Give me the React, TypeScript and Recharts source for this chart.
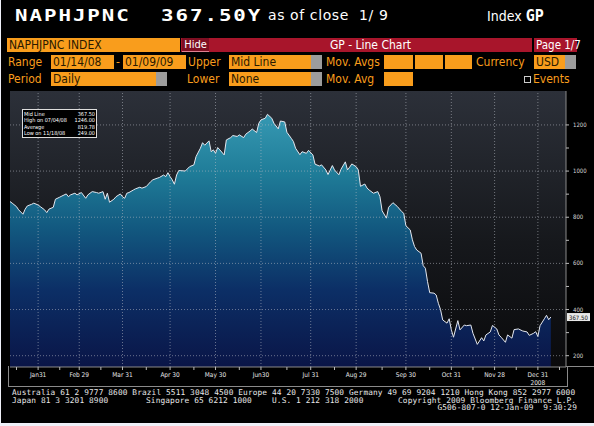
import React from 'react';
import { ComposedChart, Area, XAxis, YAxis, CartesianGrid, ReferenceLine } from 'recharts';

// trading-day offset from 01/14/08 and the daily close
const tradingDay = [
  0, 1, 3, 4, 6, 7, 8, 10, 11, 13, 14, 16, 17, 18, 20, 21, 23, 24, 26, 27, 28, 30, 31, 33, 35, 36, 38, 40, 41, 43,
  44, 45, 46, 48, 49, 51, 52, 53, 54, 55, 57, 58, 60, 61, 63, 65, 66, 68, 69, 71, 72, 73, 74, 75, 76, 77, 78, 79, 81, 83,
  85, 86, 88, 89, 90, 92, 93, 94, 95, 96, 97, 99, 100, 102, 103, 105, 106, 108, 109, 111, 112, 114, 115, 116, 118, 119, 121, 122, 124, 125,
  127, 128, 130, 131, 132, 134, 135, 137, 138, 140, 141, 143, 144, 146, 147, 149, 150, 152, 153, 155, 156, 157, 158, 160, 161, 162, 164, 165, 166, 168,
  170, 171, 172, 174, 175, 177, 179, 181, 182, 183, 185, 186, 187, 188, 190, 191, 192, 193, 194, 196, 197, 198, 199, 200, 202, 203, 204, 205, 207, 208,
  210, 211, 213, 214, 216, 218, 219, 220, 222, 223, 225, 226, 227, 229, 230, 232, 233, 235, 237, 239, 240, 242, 243, 244, 245, 247, 248, 249, 250,
];
const closePrice = [
  868, 861, 846, 832, 813, 835, 849, 856, 861, 853, 846, 832, 820, 835, 843, 878, 887, 892, 901, 889, 897, 904, 897, 907, 882, 897, 911, 907, 904, 911,
  878, 904, 865, 878, 889, 901, 889, 882, 904, 907, 918, 923, 930, 926, 933, 954, 962, 969, 972, 983, 976, 993, 976, 962, 943, 983, 1002, 1002, 1000, 1019,
  1027, 1063, 1099, 1123, 1112, 1131, 1084, 1092, 1077, 1102, 1092, 1070, 1135, 1145, 1154, 1150, 1157, 1145, 1160, 1174, 1182, 1167, 1207, 1222, 1229, 1246, 1229, 1207, 1183, 1217,
  1213, 1168, 1142, 1128, 1099, 1071, 1084, 1077, 1090, 1070, 1030, 1022, 1027, 1005, 985, 1024, 1005, 984, 1008, 1040, 1005, 1017, 1031, 1019, 1005, 934, 944, 927, 918, 904,
  911, 889, 828, 796, 843, 863, 847, 825, 817, 763, 745, 702, 673, 658, 644, 590, 579, 521, 473, 471, 463, 427, 400, 355, 341, 360, 312, 280, 352, 312,
  333, 330, 333, 297, 249, 278, 264, 290, 303, 331, 316, 290, 280, 258, 290, 276, 313, 316, 307, 303, 288, 297, 304, 283, 330, 360, 375, 356, 367.5,
];

const monthTickDays = [13, 32, 52, 74, 95, 116, 139, 160, 183, 204, 224, 244];
const monthTickLabels = ['Jan31', 'Feb 29', 'Mar 31', 'Apr 30', 'May 30', 'Jun30', 'Jul 31', 'Aug 29', 'Sep 30', 'Oct 31', 'Nov 28', 'Dec 31'];
const minorTickDays = [3, 23, 42, 63, 85, 106, 128, 150, 172, 194, 214, 234, 254];
const yearLabel = '2008';

const priceGrid = [200, 400, 600, 800, 1000, 1200];
const priceMinor = [300, 500, 700, 900, 1100];

const statLabels = ['Mid Line', 'High on 07/04/08', 'Average', 'Low on 11/18/08'];
const statValues = ['367.50', '1246.00', '819.78', '249.00'];

const data = tradingDay.map((d, i) => ({ day: d, px: closePrice[i] }));
const lastPrice = closePrice[closePrice.length - 1];

const ORANGE = '#f99d1c';
const RED = '#a8152b';
const narrow = '"Liberation Sans Narrow", "DejaVu Sans Condensed", "Arial Narrow", sans-serif';
const mono = '"DejaVu Sans Mono", "Liberation Mono", monospace';

const XTick = (props: any) => {
  const { x, y, payload } = props;
  const i = monthTickDays.indexOf(payload.value);
  if (i < 0) return null;
  return (
    <g>
      <text x={x} y={y + 5} textAnchor="middle" fontSize={6.5} fill="#e6e6e6" fontFamily={narrow}>
        {monthTickLabels[i]}
      </text>
      {i === monthTickDays.length - 1 && (
        <text x={x} y={y + 13} textAnchor="middle" fontSize={6.5} fill="#e6e6e6" fontFamily={narrow}>
          {yearLabel}
        </text>
      )}
    </g>
  );
};

const YTick = (props: any) => {
  const { x, y, payload } = props;
  if (!priceGrid.includes(payload.value)) return null;
  return (
    <text x={x + 2} y={y + 2} fontSize={6} fill="#d8d8d8" fontFamily={narrow}>
      {payload.value}
    </text>
  );
};

const LastLabel = (props: any) => {
  const vb = props.viewBox;
  if (!vb) return null;
  const x = vb.x + vb.width + 1;
  return (
    <g>
      <rect x={x} y={vb.y - 4} width={23} height={8} fill="#e8e8e8" />
      <text x={x + 2} y={vb.y + 2.5} fontSize={6} fill="#111" fontFamily={narrow}>
        {lastPrice.toFixed(2)}
      </text>
    </g>
  );
};

const Field = ({ left, width, text, drop }: { left: number; width: number; text: string; drop?: boolean }) => (
  <div style={{ position: 'absolute', left, top: 0, width, height: 14, background: ORANGE, color: '#2a1a00' }}>
    <span style={{ position: 'absolute', left: 2, top: 0, fontSize: 12, lineHeight: '14px', whiteSpace: 'nowrap' }}>{text}</span>
    {drop && <div style={{ position: 'absolute', right: 0, top: 0, width: 11, height: 14, background: '#9c9c9c' }} />}
  </div>
);

const Label = ({ left, text }: { left: number; text: string }) => (
  <span style={{ position: 'absolute', left, top: 0, fontSize: 12, lineHeight: '14px', color: ORANGE, whiteSpace: 'nowrap' }}>{text}</span>
);

const Foot = ({ left, top, text }: { left: number; top: number; text: string }) => (
  <span style={{ position: 'absolute', left, top, whiteSpace: 'pre' }}>{text}</span>
);

const titleBold = {
  position: 'absolute' as const,
  top: 6,
  color: '#fff',
  fontFamily: mono,
  fontSize: 16,
  fontWeight: 'bold' as const,
  letterSpacing: 1.5,
  whiteSpace: 'nowrap' as const,
  transform: 'scaleX(1.3)',
  transformOrigin: 'left center',
};

export default function App() {
  return (
    <div
      style={{
        position: 'fixed',
        left: 0,
        top: 0,
        width: 594,
        height: 426,
        background: '#000',
        overflow: 'hidden',
        fontFamily: narrow,
      }}
    >
      {/* title line */}
      <div style={{ ...titleBold, left: 15 }}>NAPHJPNC</div>
      <div style={{ ...titleBold, left: 161 }}>367.50Y</div>
      <div style={{ position: 'absolute', left: 268, top: 7, color: '#fff', fontFamily: '"DejaVu Sans", sans-serif', fontSize: 14, letterSpacing: 0.6, whiteSpace: 'pre' }}>
        as of close  1/ 9
      </div>
      <div style={{ position: 'absolute', left: 487, top: 7, color: '#fff', fontSize: 14, whiteSpace: 'nowrap' }}>
        Index <b style={{ fontFamily: mono, fontSize: 15 }}>GP</b>
      </div>

      {/* toolbar row 1 */}
      <div style={{ position: 'absolute', left: 0, top: 38, width: 594, height: 14 }}>
        <Field left={7} width={173} text="NAPHJPNC INDEX" />
        <div style={{ position: 'absolute', left: 181, top: 0, width: 351, height: 14, background: RED }} />
        <div
          style={{
            position: 'absolute', left: 182, top: 0, width: 27, height: 13, background: '#7e0f22',
            borderBottom: '1px solid #e08090', color: '#fff', fontSize: 11, lineHeight: '13px', textAlign: 'center',
          }}
        >
          Hide
        </div>
        <div style={{ position: 'absolute', left: 209, top: 0, width: 323, textAlign: 'center', color: '#fff', fontSize: 12, lineHeight: '14px' }}>
          GP - Line Chart
        </div>
        <div style={{ position: 'absolute', left: 534, top: 0, width: 43, height: 14, background: RED }} />
        <span style={{ position: 'absolute', left: 536, top: 0, color: '#fff', fontSize: 11.5, lineHeight: '14px', whiteSpace: 'nowrap' }}>
          Page 1/7
        </span>
      </div>

      {/* toolbar row 2 */}
      <div style={{ position: 'absolute', left: 0, top: 55, width: 594, height: 14 }}>
        <Label left={8} text="Range" />
        <Field left={51} width={63} text="01/14/08" />
        <Label left={116} text="-" />
        <Field left={123} width={63} text="01/09/09" />
        <Label left={188} text="Upper" />
        <Field left={229} width={93} text="Mid Line" drop />
        <Label left={326} text="Mov. Avgs" />
        <Field left={384} width={29} text="" />
        <Field left={415} width={28} text="" />
        <Field left={445} width={27} text="" />
        <Label left={476} text="Currency" />
        <Field left={534} width={42} text="USD" drop />
      </div>

      {/* toolbar row 3 */}
      <div style={{ position: 'absolute', left: 0, top: 72, width: 594, height: 14 }}>
        <Label left={8} text="Period" />
        <Field left={51} width={116} text="Daily" drop />
        <Label left={187} text="Lower" />
        <Field left={229} width={93} text="None" drop />
        <Label left={326} text="Mov. Avg" />
        <Field left={384} width={29} text="" />
        <div style={{ position: 'absolute', left: 524, top: 4, width: 5, height: 5, border: '1px solid #ccc' }} />
        <Label left={533} text="Events" />
      </div>

      {/* x-axis band frame */}
      <div style={{ position: 'absolute', left: 8, top: 366, width: 558, height: 20, border: '1px solid #8a8a8a', borderTop: 'none' }} />
      <div style={{ position: 'absolute', left: 566, top: 366, width: 28, height: 1, background: '#8a8a8a' }} />

      <div style={{ position: 'absolute', left: 0, top: 88 }}>
        <ComposedChart width={594} height={305} data={data} margin={{ top: 3, right: 0, bottom: 0, left: 10 }}>
          <defs>
            <linearGradient id="plotBg" x1="0" y1="0" x2="0" y2="1">
              <stop offset="0" stopColor="#2c3039" />
              <stop offset="0.55" stopColor="#16181c" />
              <stop offset="1" stopColor="#0a0a0c" />
            </linearGradient>
            <linearGradient id="areaFill" gradientUnits="userSpaceOnUse" x1="0" y1="3" x2="0" y2="279">
              <stop offset="0" stopColor="#3fa4bd" />
              <stop offset="0.3" stopColor="#1f7c98" />
              <stop offset="0.5" stopColor="#12587f" />
              <stop offset="0.72" stopColor="#0c2f66" />
              <stop offset="1" stopColor="#0a1547" />
            </linearGradient>
          </defs>
          <CartesianGrid fill="url(#plotBg)" horizontal={false} vertical={false} />
          <XAxis
            type="number"
            dataKey="day"
            domain={[0, 257]}
            ticks={[...monthTickDays, ...minorTickDays].sort((a, b) => a - b)}
            tick={<XTick />}
            tickSize={3}
            tickLine={{ stroke: '#bbb' }}
            axisLine={{ stroke: '#8a8a8a' }}
            height={26}
            interval={0}
          />
          <YAxis
            orientation="right"
            domain={[151, 1347]}
            ticks={[...priceGrid, ...priceMinor].sort((a, b) => a - b)}
            tick={<YTick />}
            tickSize={3}
            tickLine={{ stroke: '#bbb' }}
            axisLine={{ stroke: '#8a8a8a' }}
            width={28}
            interval={0}
            allowDataOverflow
          />
          <Area
            type="linear"
            dataKey="px"
            stroke="#e4e8f0"
            strokeWidth={1}
            fill="url(#areaFill)"
            fillOpacity={1}
            isAnimationActive={false}
            dot={false}
            activeDot={false}
          />
          {priceGrid.map((v) => (
            <ReferenceLine key={'h' + v} y={v} stroke="#b8bcc4" strokeOpacity={0.55} strokeDasharray="1 2" />
          ))}
          {monthTickDays.map((d) => (
            <ReferenceLine key={'v' + d} x={d} stroke="#b8bcc4" strokeOpacity={0.55} strokeDasharray="1 2" />
          ))}
          <ReferenceLine y={lastPrice} stroke="none" label={<LastLabel />} />
        </ComposedChart>
      </div>

      {/* stats box */}
      <div
        style={{
          position: 'absolute', left: 22, top: 109, width: 75, height: 29, background: '#000',
          border: '1px solid #ddd', color: '#fff', fontSize: 5.5, lineHeight: '6.3px', padding: '1px 1px', boxSizing: 'border-box',
        }}
      >
        {statLabels.map((s, i) => (
          <div key={s} style={{ display: 'flex', justifyContent: 'space-between' }}>
            <span>{s}</span>
            <span>{statValues[i]}</span>
          </div>
        ))}
      </div>

      {/* footer */}
      <div style={{ position: 'absolute', left: 0, top: 0, width: 594, height: 426, color: '#e8e8e8', fontFamily: mono, fontSize: 7.8, lineHeight: '7px', letterSpacing: 0.12 }}>
        <Foot left={12} top={389} text="Australia 61 2 9777 8600 Brazil 5511 3048 4500 Europe 44 20 7330 7500 Germany 49 69 9204 1210 Hong Kong 852 2977 6000" />
        <Foot left={12} top={396.5} text="Japan 81 3 3201 8900" />
        <Foot left={146} top={396.5} text="Singapore 65 6212 1000" />
        <Foot left={272} top={396.5} text="U.S. 1 212 318 2000" />
        <Foot left={398} top={396.5} text="Copyright 2009 Bloomberg Finance L.P." />
        <div style={{ position: 'absolute', right: 17, top: 404, whiteSpace: 'pre' }}>G506-807-0 12-Jan-09  9:30:29</div>
      </div>
      <div style={{ position: 'absolute', left: 0, top: 423, width: 594, height: 3, background: '#eef0f8' }} />
      <div style={{ position: 'absolute', left: 0, top: 0, width: 1, height: 426, background: '#eef0f8' }} />
    </div>
  );
}
